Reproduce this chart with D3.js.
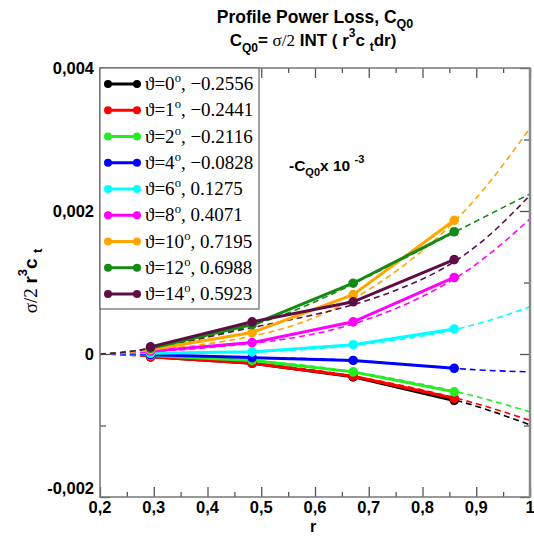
<!DOCTYPE html>
<html>
<head>
<meta charset="utf-8">
<script src="https://cdn.jsdelivr.net/npm/d3@7"></script>
<style>
  body { margin: 0; background: #fff; }
  svg { display: block; }
</style>
</head>
<body>
<svg id="chart" width="534" height="536"></svg>
<script>
// Blade stations where c_t was evaluated
const radii = [0.294, 0.483, 0.671, 0.859];
// Stations used for the fitted (dashed) curves, root cut-out to tip
const fitRadii = [0.2, 0.294, 0.483, 0.671, 0.859, 1.0];

const pitchAngles = ["0", "1", "2", "4", "6", "8", "10", "12", "14"];
const cq0Values = ["\u22120.2556", "\u22120.2441", "\u22120.2116", "\u22120.0828",
                   "0.1275", "0.4071", "0.7195", "0.6988", "0.5923"];
const seriesColors = ["#000000", "#ff0000", "#22ee22", "#0000ff", "#00ffff",
                      "#ff00ff", "#ffa500", "#138a13", "#5e0c44"];

// sigma/2 r^3 c_t at each station, one row per pitch angle
const measured = [
  [-0.00004, -0.00013, -0.00032, -0.00065],
  [-0.00004, -0.00013, -0.00031, -0.00062],
  [-0.00002, -0.00009, -0.00025, -0.00053],
  [-0.00001, -0.00005, -0.00009, -0.00020],
  [ 0.00001,  0.00003,  0.00013,  0.00035],
  [ 0.00004,  0.00016,  0.00045,  0.00107],
  [ 0.00006,  0.00030,  0.00083,  0.00187],
  [ 0.00008,  0.00041,  0.00099,  0.00171],
  [ 0.00010,  0.00045,  0.00073,  0.00132]
];

// Fitted curves extended to root and tip
const fitted = [
  [0, -0.00003, -0.00013, -0.00032, -0.00064, -0.00099],
  [0, -0.00003, -0.00013, -0.00031, -0.00061, -0.00093],
  [0, -0.00002, -0.00009, -0.00025, -0.00052, -0.00081],
  [0, -0.00001, -0.00005, -0.00009, -0.00020, -0.00025],
  [0,  0.00001,  0.00003,  0.00012,  0.00034,  0.00066],
  [0,  0.00003,  0.00015,  0.00042,  0.00105,  0.00189],
  [0,  0.00005,  0.00025,  0.00077,  0.00185,  0.00316],
  [0,  0.00008,  0.00040,  0.00098,  0.00170,  0.00224],
  [0,  0.00008,  0.00037,  0.00069,  0.00129,  0.00222]
];

const xMajorTicks = [0.2, 0.3, 0.4, 0.5, 0.6, 0.7, 0.8, 0.9, 1.0];
const xTickLabels = ["0,2", "0,3", "0,4", "0,5", "0,6", "0,7", "0,8", "0,9", "1"];
const xMinorTicks = [0.25, 0.35, 0.45, 0.55, 0.65, 0.75, 0.85, 0.95];
const yMajorTicks = [-0.002, 0, 0.002, 0.004];
const yTickLabels = ["-0,002", "0", "0,002", "0,004"];
const yMinorTicks = [-0.001, 0.001, 0.003];

const svg = d3.select("#chart");
const plotLeft = 100, plotRight = 530, plotTop = 68, plotBottom = 497;

const x = d3.scaleLinear().domain([0.2, 1.0]).range([plotLeft, plotRight]);
const y = d3.scaleLinear().domain([-0.002, 0.004]).range([plotBottom, plotTop]);

const sans = "'Liberation Sans', Arial, sans-serif";
const serif = "'Liberation Serif', 'Times New Roman', serif";

// ---- inward ticks on all four sides ----
const tickColor = "#555";
function styleAxis(g) {
  g.select(".domain").remove();
  g.selectAll("line").attr("stroke", tickColor).attr("stroke-width", 1.3);
  g.selectAll("text").remove();
}
svg.append("g").attr("transform", `translate(0,${plotBottom})`)
  .call(d3.axisBottom(x).tickValues(xMajorTicks).tickSize(-10)).call(styleAxis);
svg.append("g").attr("transform", `translate(0,${plotBottom})`)
  .call(d3.axisBottom(x).tickValues(xMinorTicks).tickSize(-5)).call(styleAxis);
svg.append("g").attr("transform", `translate(0,${plotTop})`)
  .call(d3.axisTop(x).tickValues(xMajorTicks).tickSize(-10)).call(styleAxis);
svg.append("g").attr("transform", `translate(0,${plotTop})`)
  .call(d3.axisTop(x).tickValues(xMinorTicks).tickSize(-5)).call(styleAxis);
svg.append("g").attr("transform", `translate(${plotLeft},0)`)
  .call(d3.axisLeft(y).tickValues(yMajorTicks).tickSize(-10)).call(styleAxis);
svg.append("g").attr("transform", `translate(${plotLeft},0)`)
  .call(d3.axisLeft(y).tickValues(yMinorTicks).tickSize(-6)).call(styleAxis);
svg.append("g").attr("transform", `translate(${plotRight},0)`)
  .call(d3.axisRight(y).tickValues(yMajorTicks).tickSize(-10)).call(styleAxis);
svg.append("g").attr("transform", `translate(${plotRight},0)`)
  .call(d3.axisRight(y).tickValues(yMinorTicks).tickSize(-6)).call(styleAxis);

// tick labels (the lowest y label sits a little higher to clear the x labels)
svg.append("g").selectAll("text").data(xMajorTicks).join("text")
  .attr("x", d => x(d)).attr("y", 513)
  .attr("text-anchor", "middle")
  .attr("font-family", sans).attr("font-weight", "bold").attr("font-size", 16.5)
  .text((d, i) => xTickLabels[i]);
svg.append("g").selectAll("text").data(yMajorTicks).join("text")
  .attr("x", 94).attr("y", d => y(d) + (d === -0.002 ? -3.5 : 6))
  .attr("text-anchor", "end")
  .attr("font-family", sans).attr("font-weight", "bold").attr("font-size", 16.5)
  .text((d, i) => yTickLabels[i]);

// ---- data ----
const plot = svg.append("g");
const fitLine = d3.line().x((d, i) => x(fitRadii[i])).y(d => y(d)).curve(d3.curveNatural);
const dataLine = d3.line().x((d, i) => x(radii[i])).y(d => y(d));

plot.selectAll("path.fit").data(fitted).join("path")
  .attr("class", "fit")
  .attr("d", fitLine)
  .attr("fill", "none")
  .attr("stroke", (d, i) => seriesColors[i])
  .attr("stroke-width", 1.6)
  .attr("stroke-dasharray", "6,4");

plot.selectAll("path.data").data(measured).join("path")
  .attr("class", "data")
  .attr("d", dataLine)
  .attr("fill", "none")
  .attr("stroke", (d, i) => seriesColors[i])
  .attr("stroke-width", 3);

measured.forEach((row, s) => {
  plot.append("g").selectAll("circle").data(row).join("circle")
    .attr("cx", (d, i) => x(radii[i]))
    .attr("cy", d => y(d))
    .attr("r", 4.8)
    .attr("fill", seriesColors[s]);
});

// frame on top
svg.append("rect")
  .attr("x", plotLeft).attr("y", plotTop)
  .attr("width", plotRight - plotLeft).attr("height", plotBottom - plotTop)
  .attr("fill", "none").attr("stroke", "#777").attr("stroke-width", 1.5);
svg.append("line")
  .attr("x1", plotRight).attr("x2", plotRight).attr("y1", plotTop).attr("y2", plotBottom)
  .attr("stroke", "#888").attr("stroke-width", 2.5);

// ---- legend ----
const legend = svg.append("g");
legend.append("rect")
  .attr("x", plotLeft).attr("y", plotTop)
  .attr("width", 159).attr("height", 241)
  .attr("fill", "#fff").attr("stroke", "#666").attr("stroke-width", 1.2);
pitchAngles.forEach((a, i) => {
  const cy = 84 + i * 26.25;
  const g = legend.append("g");
  g.append("line").attr("x1", 108).attr("x2", 137).attr("y1", cy).attr("y2", cy)
    .attr("stroke", seriesColors[i]).attr("stroke-width", 3);
  g.selectAll("circle").data([108, 137]).join("circle")
    .attr("cx", d => d).attr("cy", cy).attr("r", 4).attr("fill", seriesColors[i]);
  const t = g.append("text").attr("x", 145).attr("y", cy + 6)
    .attr("font-family", serif).attr("font-size", 19);
  t.append("tspan").text("\u03D1=" + a);
  t.append("tspan").attr("dy", -8).attr("font-size", 12.5).text("o");
  t.append("tspan").attr("dy", 8).text(", " + cq0Values[i]);
});

// ---- titles and labels ----
const title1 = svg.append("text").attr("x", 315).attr("y", 23)
  .attr("text-anchor", "middle")
  .attr("font-family", sans).attr("font-weight", "bold").attr("font-size", 17.5);
title1.append("tspan").text("Profile Power Loss, C");
title1.append("tspan").attr("dy", 5).attr("font-size", 12.5).text("Q0");

const title2 = svg.append("text").attr("x", 313).attr("y", 46)
  .attr("text-anchor", "middle")
  .attr("font-family", sans).attr("font-weight", "bold").attr("font-size", 17);
title2.append("tspan").text("C");
title2.append("tspan").attr("dy", 6).attr("font-size", 12).text("Q0");
title2.append("tspan").attr("dy", -6).text("=  ");
title2.append("tspan").attr("font-family", serif).attr("font-weight", "normal").text("\u03C3/2");
title2.append("tspan").text(" INT ( r");
title2.append("tspan").attr("dy", -9).attr("font-size", 12).text("3");
title2.append("tspan").attr("dy", 9).text("c ");
title2.append("tspan").attr("dy", 5).attr("font-size", 12).text("t");
title2.append("tspan").attr("dy", -5).text("dr)");

const yLabel = svg.append("text")
  .attr("transform", "translate(37,281) rotate(-90)")
  .attr("text-anchor", "middle")
  .attr("font-family", sans).attr("font-weight", "bold").attr("font-size", 19);
yLabel.append("tspan").attr("font-family", serif).attr("font-weight", "normal").text("\u03C3/2 ");
yLabel.append("tspan").text("r");
yLabel.append("tspan").attr("dy", -10).attr("font-size", 13).text("3");
yLabel.append("tspan").attr("dy", 10).text("c ");
yLabel.append("tspan").attr("dy", 5).attr("font-size", 13).text("t");

svg.append("text").attr("x", 313).attr("y", 532)
  .attr("text-anchor", "middle")
  .attr("font-family", sans).attr("font-weight", "bold").attr("font-size", 16)
  .text("r");

const note = svg.append("text").attr("x", 289).attr("y", 171)
  .attr("font-family", sans).attr("font-weight", "bold").attr("font-size", 15.5);
note.append("tspan").text("-C");
note.append("tspan").attr("dy", 5).attr("font-size", 11).text("Q0");
note.append("tspan").attr("dy", -5).text("x 10 ");
note.append("tspan").attr("dy", -8).attr("font-size", 11).text("-3");
</script>
</body>
</html>
